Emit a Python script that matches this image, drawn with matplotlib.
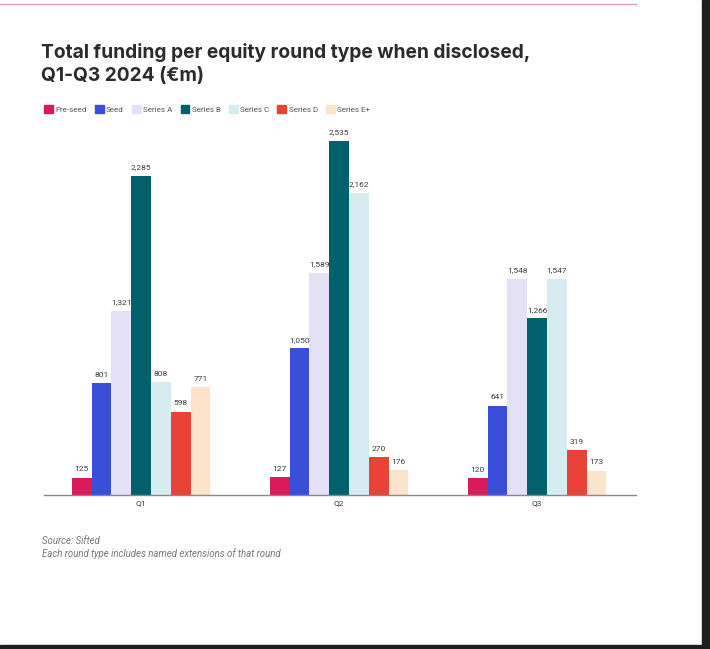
import numpy as np
import matplotlib
matplotlib.use("Agg")
from matplotlib import pyplot as plt
from matplotlib.patches import Rectangle, Patch

plt.rcParams['font.family'] = ['Roboto', 'DejaVu Sans']

quarters = ["Q1", "Q2", "Q3"]
rounds = ["Pre-seed", "Seed", "Series A", "Series B", "Series C", "Series D", "Series E+"]
pre_seed = [125, 127, 120]
seed = [801, 1050, 641]
series_a = [1321, 1589, 1548]
series_b = [2285, 2535, 1266]
series_c = [808, 2162, 1547]
series_d = [598, 270, 319]
series_e = [771, 176, 173]
values = [pre_seed, seed, series_a, series_b, series_c, series_d, series_e]
colors = ["#D91B5C", "#3A4FD9", "#E4E1F7", "#00606B", "#D6ECF0", "#EA4236", "#FCE4CA"]

fig = plt.figure(figsize=(7.1, 6.49), dpi=100)
fig.patch.set_facecolor("white")

# dark frame on right / bottom like the screenshot
fig.patches.append(Rectangle((702/710, 0), 8/710, 1, transform=fig.transFigure,
                             color="#1E1E1E", zorder=0))
fig.patches.append(Rectangle((0, 0), 1, 4/649, transform=fig.transFigure,
                             color="#1E1E1E", zorder=0))
# pink top rule
fig.lines.append(plt.Line2D([0, 636/710], [1-4/649, 1-4/649], transform=fig.transFigure,
                            color="#E3A3B3", lw=1))

ax = fig.add_axes([44/710, 1-495/649, 592/710, 360/649])
x = np.arange(len(quarters))
w = 0.1
for i, (name, vals) in enumerate(zip(rounds, values)):
    pos = x + (i - 3) * w
    ax.bar(pos, vals, width=w, color=colors[i], label=name)
    for p, v in zip(pos, vals):
        ax.text(p, v + 40, f"{v:,}", ha="center", va="bottom", fontsize=6, color="#3A3A3A")

ax.set_xlim(-0.49, 2.5)
ax.set_ylim(0, 2579)
ax.set_xticks(x)
ax.set_xticklabels(quarters, fontsize=6, color="#3A3A3A")
ax.tick_params(axis="x", length=0, pad=4)
ax.set_yticks([])
for s in ["top", "right", "left"]:
    ax.spines[s].set_visible(False)
ax.spines["bottom"].set_color("#888888")
ax.spines["bottom"].set_linewidth(1)

fig.text(41/710, 1-64/649, "Total funding per equity round type when disclosed,\nQ1-Q3 2024 (€m)",
         fontsize=13.8, fontweight="bold", color="#2B2B2B", va="center", linespacing=1.32,
         family=["Inter", "DejaVu Sans"])

handles = [Patch(color=c, label=r) for c, r in zip(colors, rounds)]
fig.legend(handles=handles, loc="center left", bbox_to_anchor=(37/710, 1-109/649), ncol=7,
           frameon=False, fontsize=5.8, handlelength=1.1, handleheight=1.1,
           handletextpad=0.3, columnspacing=1.0, labelcolor="#555555")

fig.text(42/710, 1-541/649, "Source: Sifted", fontsize=6.9, style="italic", color="#777777", va="center")
fig.text(42/710, 1-554/649, "Each round type includes named extensions of that round",
         fontsize=6.9, style="italic", color="#777777", va="center")

fig.savefig("out.png", dpi=100)
